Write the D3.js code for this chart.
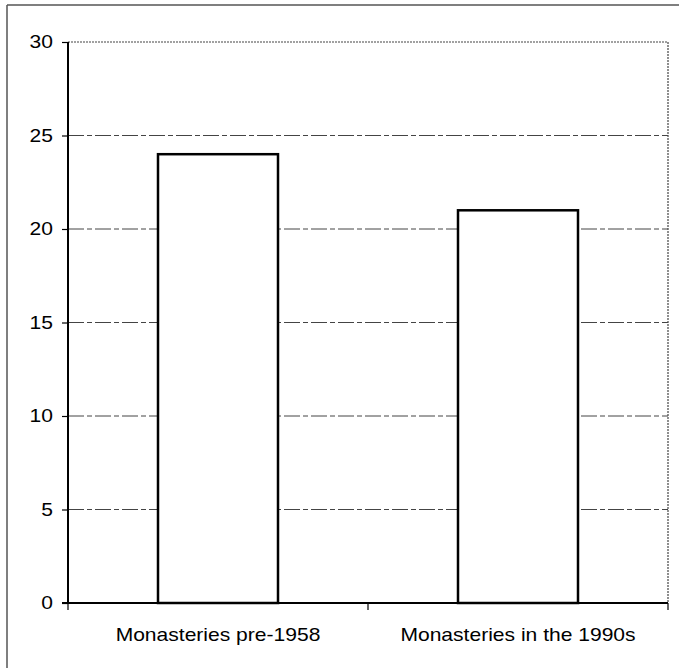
<!DOCTYPE html>
<html>
<head>
<meta charset="utf-8">
<script src="https://cdn.jsdelivr.net/npm/d3@7"></script>
<style>
  body { margin: 0; background: #fff; }
  svg { display: block; }
  text { font-family: "Liberation Sans", Arial, sans-serif; fill: #000; }
</style>
</head>
<body>
<div id="chart"></div>
<script>
// data
var categories = ["Monasteries pre-1958", "Monasteries in the 1990s"];
var values = [24, 21];
var yTicks = [0, 5, 10, 15, 20, 25, 30];

var W = 679, H = 668;
var margin = { top: 42, right: 11, bottom: 65, left: 68 },
  width = W - margin.left - margin.right,
  height = H - margin.top - margin.bottom;

var stretch = 1.17; // scanned text looks horizontally wide

var svg = d3.select("#chart").append("svg")
  .attr("width", W)
  .attr("height", H);

// outer frame (left and top edges visible)
svg.append("line").attr("x1", 7).attr("y1", 5).attr("x2", 7).attr("y2", H)
  .attr("stroke", "#555").attr("stroke-width", 1.5);
svg.append("line").attr("x1", 7).attr("y1", 5).attr("x2", W).attr("y2", 5)
  .attr("stroke", "#555").attr("stroke-width", 1.5);

var g = svg.append("g")
  .attr("transform", "translate(" + margin.left + "," + margin.top + ")");

// scales
var x = d3.scaleBand().domain(categories).range([0, width]).padding(0);
var y = d3.scaleLinear().domain([0, 30]).range([height, 0]);
var barW = x.bandwidth() * 0.4;

// gridlines (top one is the dotted plot border)
g.selectAll(".grid")
  .data(yTicks.filter(function (d) { return d > 0 && d < 30; }))
  .enter().append("line")
  .attr("class", "grid")
  .attr("x1", 0).attr("x2", width)
  .attr("y1", function (d) { return y(d); })
  .attr("y2", function (d) { return y(d); })
  .attr("stroke", "#444")
  .attr("stroke-width", 1)
  .attr("stroke-dasharray", "16,3,5,3");

// plot border top and right (dotted)
g.append("path")
  .attr("d", "M0," + y(30) + "H" + width + "V" + height)
  .attr("fill", "none")
  .attr("stroke", "#444").attr("stroke-width", 1.2)
  .attr("stroke-dasharray", "2,1");

// bars
g.selectAll(".bar")
  .data(values)
  .enter().append("rect")
  .attr("class", "bar")
  .attr("x", function (d, i) { return x(categories[i]) + (x.bandwidth() - barW) / 2; })
  .attr("y", function (d) { return y(d); })
  .attr("width", barW)
  .attr("height", function (d) { return height - y(d); })
  .attr("fill", "#fff")
  .attr("stroke", "#000")
  .attr("stroke-width", 2.5);

// y axis
var yAxis = g.append("g")
  .call(d3.axisLeft(y).tickValues(yTicks).tickSize(6).tickPadding(15));
yAxis.select(".domain").attr("stroke", "#000").attr("stroke-width", 2).attr("d", "M0,0V" + height);
yAxis.selectAll(".tick line").attr("stroke", "#000").attr("stroke-width", 1.2);
yAxis.selectAll("text")
  .style("font-size", "18px")
  .attr("x", -15 / stretch)
  .attr("transform", "scale(" + stretch + ",1)");

// x axis
var xAxis = g.append("g")
  .attr("transform", "translate(0," + height + ")")
  .call(d3.axisBottom(x).tickSize(0).tickPadding(0));
xAxis.select(".domain").attr("stroke", "#000").attr("stroke-width", 2).attr("d", "M-6,0H" + width);
xAxis.selectAll(".tick text")
  .style("font-size", "18px")
  .attr("y", 38)
  .attr("dy", 0)
  .attr("transform", "scale(" + stretch + ",1)");

// category dividers below the axis
xAxis.selectAll(".divider")
  .data([0, width / 2, width])
  .enter().append("line")
  .attr("class", "divider")
  .attr("x1", function (d) { return d; }).attr("x2", function (d) { return d; })
  .attr("y1", 0).attr("y2", 7)
  .attr("stroke", "#000").attr("stroke-width", 1.2);
</script>
</body>
</html>
